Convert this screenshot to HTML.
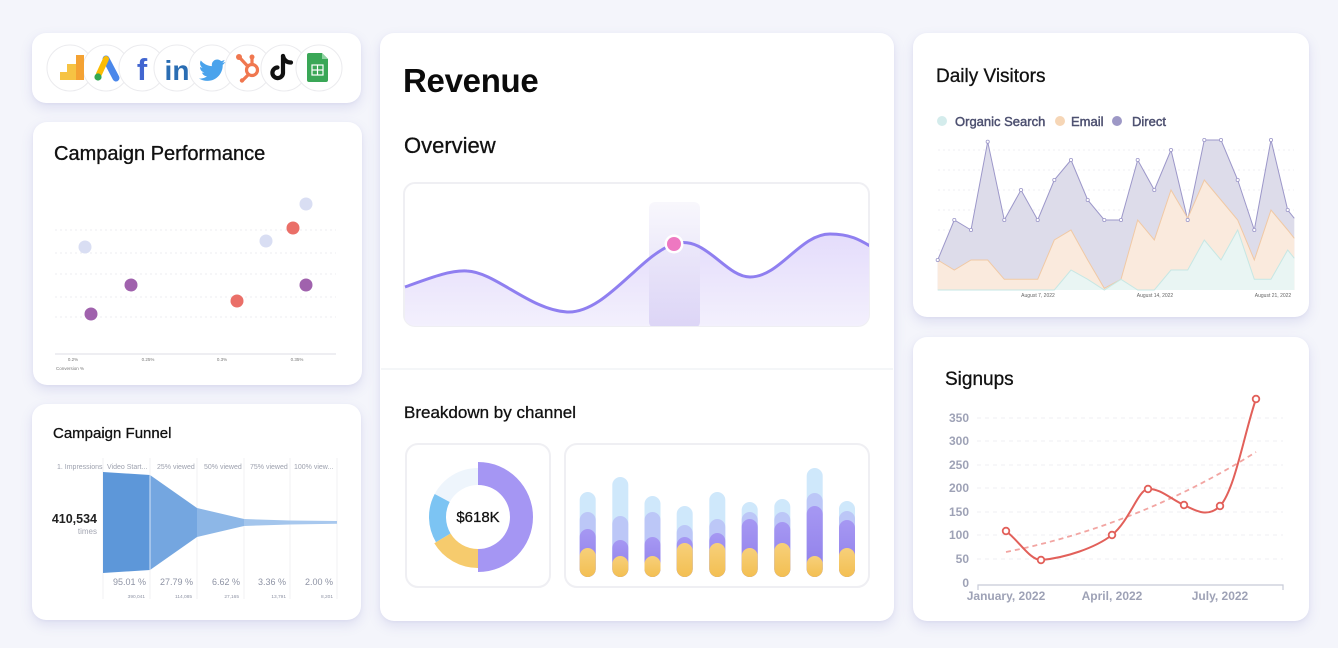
<!DOCTYPE html>
<html><head><meta charset="utf-8">
<style>
*{margin:0;padding:0;box-sizing:border-box}
html,body{width:1338px;height:648px;overflow:hidden;background:#f4f5fb;font-family:"Liberation Sans",sans-serif}
.card{position:absolute;background:#fff;border-radius:14px;box-shadow:0 5px 12px rgba(110,110,190,0.16),0 1px 3px rgba(110,110,190,0.08)}
svg{position:absolute;left:0;top:0}
</style></head><body>
<div class="card" style="left:32px;top:33px;width:329px;height:70px"></div>
<div class="card" style="left:33px;top:122px;width:329px;height:263px"></div>
<div class="card" style="left:32px;top:404px;width:329px;height:216px"></div>
<div class="card" style="left:380px;top:33px;width:514px;height:588px"></div>
<div class="card" style="left:913px;top:33px;width:396px;height:284px"></div>
<div class="card" style="left:913px;top:337px;width:396px;height:284px"></div>

<svg width="1338" height="648" viewBox="0 0 1338 648" xmlns="http://www.w3.org/2000/svg">
<defs>
<linearGradient id="revfill" x1="0" y1="0" x2="0" y2="1"><stop offset="0" stop-color="#e4dcfb"/><stop offset="1" stop-color="#f3f0fd"/></linearGradient>
<linearGradient id="hl" x1="0" y1="0" x2="0" y2="1"><stop offset="0" stop-color="#f7f6fc"/><stop offset="1" stop-color="#d8d0f5"/></linearGradient>
<linearGradient id="pur" x1="0" y1="0" x2="0" y2="1"><stop offset="0" stop-color="#a698f3"/><stop offset="1" stop-color="#8f7ee9"/></linearGradient>
<linearGradient id="yel" x1="0" y1="0" x2="0" y2="1"><stop offset="0" stop-color="#f7d07a"/><stop offset="1" stop-color="#f3bf52"/></linearGradient>
<clipPath id="revclip"><rect x="404" y="183" width="465" height="143" rx="11"/></clipPath>
</defs>

<!-- ICONS -->
<g stroke="#ebebee" stroke-width="1" fill="#fff">
<circle cx="70" cy="68" r="23"/><circle cx="106" cy="68" r="23"/><circle cx="142" cy="68" r="23"/><circle cx="177" cy="68" r="23"/><circle cx="212" cy="68" r="23"/><circle cx="248" cy="68" r="23"/><circle cx="284" cy="68" r="23"/><circle cx="319" cy="68" r="23"/>
</g>
<rect x="60" y="72" width="8" height="8" fill="#f6c343"/>
<rect x="67" y="64" width="9" height="16" fill="#f6c343"/>
<rect x="76" y="55" width="8" height="25" fill="#f4a233"/>
<line x1="106" y1="59" x2="116" y2="78" stroke="#4a87ea" stroke-width="7" stroke-linecap="round"/>
<line x1="106" y1="59" x2="99" y2="74" stroke="#fbbc04" stroke-width="6" stroke-linecap="round"/>
<circle cx="98" cy="77" r="3.6" fill="#34a853"/>
<text x="142" y="80" font-size="31" font-weight="bold" fill="#4266d0" text-anchor="middle">f</text>
<text x="177" y="80" font-size="28" font-weight="bold" fill="#2a6db3" text-anchor="middle">in</text>
<path transform="translate(199,57) scale(1.1)" fill="#4aa3ec" d="M23.954 4.569c-.885.389-1.83.654-2.825.775 1.014-.611 1.794-1.574 2.163-2.723-.951.555-2.005.959-3.127 1.184-.896-.959-2.173-1.559-3.591-1.559-2.717 0-4.920 2.203-4.92 4.917 0 .39.045.765.127 1.124C7.691 8.094 4.066 6.13 1.64 3.161c-.427.722-.666 1.561-.666 2.475 0 1.71.87 3.213 2.188 4.096-.807-.026-1.566-.248-2.228-.616v.061c0 2.385 1.693 4.374 3.946 4.827-.413.111-.849.171-1.296.171-.314 0-.615-.03-.916-.086.631 1.953 2.445 3.377 4.604 3.417-1.68 1.319-3.809 2.105-6.102 2.105-.39 0-.779-.023-1.17-.067 2.189 1.394 4.768 2.209 7.557 2.209 9.054 0 13.999-7.496 13.999-13.986 0-.209 0-.42-.015-.63.961-.689 1.8-1.56 2.46-2.548l-.047-.02z"/>
<g stroke="#f0774f" fill="none" stroke-width="3.2" stroke-linecap="round">
<circle cx="252" cy="70" r="5.5"/>
<line x1="252" y1="64" x2="252" y2="58"/>
<line x1="247.5" y1="66" x2="240" y2="58"/>
<line x1="248" y1="75" x2="243" y2="80"/>
</g>
<circle cx="252" cy="57" r="2.5" fill="#f0774f"/><circle cx="239" cy="57" r="3" fill="#f0774f"/><circle cx="242" cy="80.5" r="2.2" fill="#f0774f"/>
<g stroke="#111" fill="none" stroke-width="4.2" stroke-linecap="round">
<path d="M283,56 L283,73 A5.3,5.3 0 1 1 277.5,67.5"/>
<path d="M283,56 Q284.5,62.5 291,62.5"/>
</g>
<path d="M307,55 Q307,53 309,53 L322,53 L328,59 L328,80 Q328,82 326,82 L309,82 Q307,82 307,80 Z" fill="#3aa757"/>
<path d="M322,53 L322,59 L328,59 Z" fill="#8fd3a2"/>
<g stroke="#fff" stroke-width="1.2" fill="none"><rect x="312" y="65" width="11" height="10"/><line x1="312" y1="70" x2="323" y2="70"/><line x1="317.5" y1="65" x2="317.5" y2="75"/></g>

<!-- CAMPAIGN PERFORMANCE -->
<text x="54" y="160" font-size="20" fill="#111" stroke="#111" stroke-width="0.35">Campaign Performance</text>
<g stroke="#ececf1" stroke-width="1" stroke-dasharray="2,3">
<line x1="55" y1="230" x2="336" y2="230"/><line x1="55" y1="253" x2="336" y2="253"/><line x1="55" y1="274" x2="336" y2="274"/><line x1="55" y1="297" x2="336" y2="297"/><line x1="55" y1="317" x2="336" y2="317"/>
</g>
<line x1="55" y1="354" x2="336" y2="354" stroke="#dcdde6" stroke-width="1"/>
<g font-size="4.5" fill="#777" text-anchor="middle"><text x="73" y="361">0.2%</text><text x="148" y="361">0.25%</text><text x="222" y="361">0.3%</text><text x="297" y="361">0.35%</text></g>
<text x="56" y="370" font-size="4.5" fill="#777">Conversion %</text>
<g fill="#d9def3"><circle cx="85" cy="247" r="6.5"/><circle cx="266" cy="241" r="6.5"/><circle cx="306" cy="204" r="6.5"/></g>
<g fill="#ea6f68"><circle cx="293" cy="228" r="6.5"/><circle cx="237" cy="301" r="6.5"/></g>
<g fill="#a062ad"><circle cx="131" cy="285" r="6.5"/><circle cx="91" cy="314" r="6.5"/><circle cx="306" cy="285" r="6.5"/></g>

<!-- CAMPAIGN FUNNEL -->
<text x="53" y="438" font-size="15" fill="#111" stroke="#111" stroke-width="0.3">Campaign Funnel</text>
<g stroke="#f0f0f3" stroke-width="1"><line x1="103" y1="458" x2="103" y2="599"/><line x1="150" y1="458" x2="150" y2="599"/><line x1="197" y1="458" x2="197" y2="599"/><line x1="244" y1="458" x2="244" y2="599"/><line x1="290" y1="458" x2="290" y2="599"/><line x1="337" y1="458" x2="337" y2="599"/></g>
<g font-size="7" fill="#9da1ae"><text x="57" y="469">1. Impressions</text><text x="107" y="469">Video Start...</text><text x="157" y="469">25% viewed</text><text x="204" y="469">50% viewed</text><text x="250" y="469">75% viewed</text><text x="294" y="469">100% view...</text></g>
<polygon points="103,472 150,475 150,570 103,573" fill="#5d97d9"/>
<polygon points="150,475 197,508 197,537 150,570" fill="#74a6e0"/>
<polygon points="197,508 244,519 244,526 197,537" fill="#8db7e7"/>
<polygon points="244,519 290,520.5 290,524.5 244,526" fill="#a3c5ec"/>
<polygon points="290,520.5 337,521 337,523.8 290,524.5" fill="#a8c8ee"/>
<line x1="150" y1="475" x2="150" y2="570" stroke="#d4e3f6" stroke-width="1"/>
<text x="97" y="523" font-size="12.5" font-weight="bold" fill="#222" text-anchor="end">410,534</text>
<text x="97" y="534" font-size="8" fill="#a3a6b2" text-anchor="end">times</text>
<g font-size="9" fill="#8e93a4" text-anchor="end"><text x="146" y="585">95.01 %</text><text x="193" y="585">27.79 %</text><text x="240" y="585">6.62 %</text><text x="286" y="585">3.36 %</text><text x="333" y="585">2.00 %</text></g>
<g font-size="4.8" fill="#8e93a4" text-anchor="end"><text x="145" y="598">390,041</text><text x="192" y="598">114,085</text><text x="239" y="598">27,165</text><text x="286" y="598">13,791</text><text x="333" y="598">8,201</text></g>

<!-- REVENUE -->
<text x="403" y="92" font-size="33" font-weight="bold" fill="#0b0b0b" letter-spacing="-0.3">Revenue</text>
<text x="404" y="153" font-size="22" fill="#111" stroke="#111" stroke-width="0.3">Overview</text>
<rect x="404" y="183" width="465" height="143" rx="11" fill="#fff" stroke="#efeff3" stroke-width="2"/>
<g clip-path="url(#revclip)">
<path d="M405,287 C430,278 450,270 467,271 C495,272 530,310 567,312 C605,314 640,255 674,244 C705,234 725,277 750,277 C780,277 800,234 830,234 C850,234 860,240 870,246 L870,327 L405,327 Z" fill="url(#revfill)"/>
<rect x="649" y="202" width="51" height="126" rx="6" fill="url(#hl)" opacity="0.85"/>
<path d="M405,287 C430,278 450,270 467,271 C495,272 530,310 567,312 C605,314 640,255 674,244 C705,234 725,277 750,277 C780,277 800,234 830,234 C850,234 860,240 870,246" fill="none" stroke="#8f7ff0" stroke-width="3"/>
</g>
<circle cx="674" cy="244" r="9.5" fill="#fff"/>
<circle cx="674" cy="244" r="7" fill="#ee78c1"/>
<line x1="381" y1="369" x2="893" y2="369" stroke="#eef0f4" stroke-width="1.2"/>
<text x="404" y="418" font-size="17" fill="#111" stroke="#111" stroke-width="0.3">Breakdown by channel</text>
<rect x="406" y="444" width="144" height="143" rx="12" fill="#fff" stroke="#efeff3" stroke-width="2"/>
<rect x="565" y="444" width="304" height="143" rx="12" fill="#fff" stroke="#efeff3" stroke-width="2"/>
<path d="M434.7,494 A49 49 0 0 1 478,468 L478,485 A32 32 0 0 0 449.7,502 Z" fill="#eef5fc"/>
<path d="M436,542.2 A49 49 0 0 1 434.7,494 L449.7,502 A32 32 0 0 0 450.6,533.5 Z" fill="#7cc4f3"/>
<path d="M478,568 A51 51 0 0 1 434.3,543.3 L450.6,533.5 A32 32 0 0 0 478,549 Z" fill="#f6cb6d"/>
<path d="M478,462 A55 55 0 0 1 478,572 L478,549 A32 32 0 0 0 478,485 Z" fill="#a596f3"/>
<text x="478" y="522" font-size="15" fill="#111" text-anchor="middle" stroke="#111" stroke-width="0.25">$618K</text>
<!-- bars -->
<g>
<rect x="579.7" y="492" width="16" height="85" rx="8" fill="#cfe8fb"/><rect x="579.7" y="512" width="16" height="65" rx="8" fill="#bcc7f7"/><rect x="579.7" y="529" width="16" height="48" rx="8" fill="url(#pur)"/><rect x="579.7" y="548" width="16" height="29" rx="8" fill="url(#yel)"/>
<rect x="612.3" y="477" width="16" height="100" rx="8" fill="#cfe8fb"/><rect x="612.3" y="516" width="16" height="61" rx="8" fill="#bcc7f7"/><rect x="612.3" y="540" width="16" height="37" rx="8" fill="url(#pur)"/><rect x="612.3" y="556" width="16" height="21" rx="8" fill="url(#yel)"/>
<rect x="644.5" y="496" width="16" height="81" rx="8" fill="#cfe8fb"/><rect x="644.5" y="512" width="16" height="65" rx="8" fill="#bcc7f7"/><rect x="644.5" y="537" width="16" height="40" rx="8" fill="url(#pur)"/><rect x="644.5" y="556" width="16" height="21" rx="8" fill="url(#yel)"/>
<rect x="676.7" y="506" width="16" height="71" rx="8" fill="#cfe8fb"/><rect x="676.7" y="525" width="16" height="52" rx="8" fill="#bcc7f7"/><rect x="676.7" y="537" width="16" height="40" rx="8" fill="url(#pur)"/><rect x="676.7" y="543" width="16" height="34" rx="8" fill="url(#yel)"/>
<rect x="709.3" y="492" width="16" height="85" rx="8" fill="#cfe8fb"/><rect x="709.3" y="519" width="16" height="58" rx="8" fill="#bcc7f7"/><rect x="709.3" y="533" width="16" height="44" rx="8" fill="url(#pur)"/><rect x="709.3" y="543" width="16" height="34" rx="8" fill="url(#yel)"/>
<rect x="741.7" y="502" width="16" height="75" rx="8" fill="#cfe8fb"/><rect x="741.7" y="512" width="16" height="65" rx="8" fill="#bcc7f7"/><rect x="741.7" y="519" width="16" height="58" rx="8" fill="url(#pur)"/><rect x="741.7" y="548" width="16" height="29" rx="8" fill="url(#yel)"/>
<rect x="774.3" y="499" width="16" height="78" rx="8" fill="#cfe8fb"/><rect x="774.3" y="512" width="16" height="65" rx="8" fill="#bcc7f7"/><rect x="774.3" y="522" width="16" height="55" rx="8" fill="url(#pur)"/><rect x="774.3" y="543" width="16" height="34" rx="8" fill="url(#yel)"/>
<rect x="806.7" y="468" width="16" height="109" rx="8" fill="#cfe8fb"/><rect x="806.7" y="493" width="16" height="84" rx="8" fill="#bcc7f7"/><rect x="806.7" y="506" width="16" height="71" rx="8" fill="url(#pur)"/><rect x="806.7" y="556" width="16" height="21" rx="8" fill="url(#yel)"/>
<rect x="839" y="501" width="16" height="76" rx="8" fill="#cfe8fb"/><rect x="839" y="511" width="16" height="66" rx="8" fill="#bcc7f7"/><rect x="839" y="520" width="16" height="57" rx="8" fill="url(#pur)"/><rect x="839" y="548" width="16" height="29" rx="8" fill="url(#yel)"/>
</g>

<!-- DAILY VISITORS -->
<text x="936" y="82" font-size="19" fill="#111" stroke="#111" stroke-width="0.3">Daily Visitors</text>
<circle cx="942" cy="121" r="5" fill="#d4ecec"/><text x="955" y="126" font-size="13" fill="#4d5070" stroke="#4d5070" stroke-width="0.45">Organic Search</text>
<circle cx="1060" cy="121" r="5" fill="#f6d6b6"/><text x="1071" y="126" font-size="13" fill="#4d5070" stroke="#4d5070" stroke-width="0.45">Email</text>
<circle cx="1117" cy="121" r="5" fill="#9d98c6"/><text x="1132" y="126" font-size="13" fill="#4d5070" stroke="#4d5070" stroke-width="0.45">Direct</text>
<g stroke="#efeff3" stroke-width="1" stroke-dasharray="2,3"><line x1="938" y1="150" x2="1294" y2="150"/><line x1="938" y1="170" x2="1294" y2="170"/><line x1="938" y1="190" x2="1294" y2="190"/><line x1="938" y1="210" x2="1294" y2="210"/><line x1="938" y1="230" x2="1294" y2="230"/><line x1="938" y1="250" x2="1294" y2="250"/><line x1="938" y1="270" x2="1294" y2="270"/></g>
<polygon fill="#dddcea" points="937.7,290 937.7,260 954.3,220 971,230 987.7,141.7 1004.3,220 1021,190 1037.7,220 1054.3,180 1071,160 1087.7,200 1104.3,220 1121,220 1137.7,160 1154.3,190 1171,150 1187.7,220 1204.3,140 1221,140 1237.7,180 1254.3,230 1271,140 1287.7,210 1294.3,218.3 1294.3,290"/>
<polygon fill="#faeadd" points="937.7,290 937.7,260 954.3,270 971,260 987.7,260 1004.3,279.3 1021,279.3 1037.7,279.3 1054.3,240 1071,230 1087.7,260 1104.3,288.3 1121,279.3 1137.7,220 1154.3,240 1171,190 1187.7,218.3 1204.3,180 1221,200 1237.7,220 1254.3,260 1271,210 1287.7,230 1294.3,238.3 1294.3,290"/>
<polygon fill="#e9f5f3" points="937.7,290 954.3,290 971,290 987.7,290 1004.3,290 1021,290 1037.7,290 1054.3,290 1071,270 1087.7,279.3 1104.3,290 1121,279.3 1137.7,290 1154.3,290 1171,270 1187.7,270 1204.3,240 1221,260 1237.7,230 1254.3,279.3 1271,279.3 1287.7,250 1294.3,258.3 1294.3,290"/>
<polyline fill="none" stroke="#9c97c9" stroke-width="1" points="937.7,260 954.3,220 971,230 987.7,141.7 1004.3,220 1021,190 1037.7,220 1054.3,180 1071,160 1087.7,200 1104.3,220 1121,220 1137.7,160 1154.3,190 1171,150 1187.7,220 1204.3,140 1221,140 1237.7,180 1254.3,230 1271,140 1287.7,210 1294.3,218.3"/>
<polyline fill="none" stroke="#f0c9a5" stroke-width="1" points="937.7,260 954.3,270 971,260 987.7,260 1004.3,279.3 1021,279.3 1037.7,279.3 1054.3,240 1071,230 1087.7,260 1104.3,288.3 1121,279.3 1137.7,220 1154.3,240 1171,190 1187.7,218.3 1204.3,180 1221,200 1237.7,220 1254.3,260 1271,210 1287.7,230 1294.3,238.3"/>
<polyline fill="none" stroke="#c6e7e4" stroke-width="1" points="937.7,290 954.3,290 971,290 987.7,290 1004.3,290 1021,290 1037.7,290 1054.3,290 1071,270 1087.7,279.3 1104.3,290 1121,279.3 1137.7,290 1154.3,290 1171,270 1187.7,270 1204.3,240 1221,260 1237.7,230 1254.3,279.3 1271,279.3 1287.7,250 1294.3,258.3"/>
<g fill="#fff" stroke="#9c97c9" stroke-width="0.8"><circle cx="937.7" cy="260" r="1.6"/><circle cx="954.3" cy="220" r="1.6"/><circle cx="971" cy="230" r="1.6"/><circle cx="987.7" cy="141.7" r="1.6"/><circle cx="1004.3" cy="220" r="1.6"/><circle cx="1021" cy="190" r="1.6"/><circle cx="1037.7" cy="220" r="1.6"/><circle cx="1054.3" cy="180" r="1.6"/><circle cx="1071" cy="160" r="1.6"/><circle cx="1087.7" cy="200" r="1.6"/><circle cx="1104.3" cy="220" r="1.6"/><circle cx="1121" cy="220" r="1.6"/><circle cx="1137.7" cy="160" r="1.6"/><circle cx="1154.3" cy="190" r="1.6"/><circle cx="1171" cy="150" r="1.6"/><circle cx="1187.7" cy="220" r="1.6"/><circle cx="1204.3" cy="140" r="1.6"/><circle cx="1221" cy="140" r="1.6"/><circle cx="1237.7" cy="180" r="1.6"/><circle cx="1254.3" cy="230" r="1.6"/><circle cx="1271" cy="140" r="1.6"/><circle cx="1287.7" cy="210" r="1.6"/></g>
<g font-size="5" fill="#666" text-anchor="middle"><text x="1038" y="297">August 7, 2022</text><text x="1155" y="297">August 14, 2022</text><text x="1273" y="297">August 21, 2022</text></g>

<!-- SIGNUPS -->
<text x="945" y="385" font-size="19" fill="#111" stroke="#111" stroke-width="0.3">Signups</text>
<g stroke="#efeff3" stroke-width="1" stroke-dasharray="4,4"><line x1="977" y1="418" x2="1283" y2="418"/><line x1="977" y1="441" x2="1283" y2="441"/><line x1="977" y1="465" x2="1283" y2="465"/><line x1="977" y1="488" x2="1283" y2="488"/><line x1="977" y1="512" x2="1283" y2="512"/><line x1="977" y1="535" x2="1283" y2="535"/><line x1="977" y1="559" x2="1283" y2="559"/></g>
<g font-size="12" font-weight="bold" fill="#9ea2b6" text-anchor="end"><text x="969" y="422">350</text><text x="969" y="445">300</text><text x="969" y="469">250</text><text x="969" y="492">200</text><text x="969" y="516">150</text><text x="969" y="539">100</text><text x="969" y="563">50</text><text x="969" y="587">0</text></g>
<path d="M978,590 L978,585 L1283,585 L1283,590" fill="none" stroke="#c8cbd8" stroke-width="1.2"/>
<g font-size="12" font-weight="bold" fill="#9ea2b6" text-anchor="middle"><text x="1006" y="600">January, 2022</text><text x="1112" y="600">April, 2022</text><text x="1220" y="600">July, 2022</text></g>
<path d="M1006,552 Q1140,525 1256,452" fill="none" stroke="#f2a5a2" stroke-width="1.8" stroke-dasharray="5,4"/>
<path d="M1006,531 C1020,542 1030,560 1041,560 C1065,558 1095,548 1112,535 C1130,520 1138,490 1148,489 C1160,488 1172,500 1184,505 C1196,511 1208,518 1220,506 C1235,490 1245,430 1256,399" fill="none" stroke="#e2605a" stroke-width="2"/>
<g fill="#fff" stroke="#e2605a" stroke-width="1.8"><circle cx="1006" cy="531" r="3.3"/><circle cx="1041" cy="560" r="3.3"/><circle cx="1112" cy="535" r="3.3"/><circle cx="1148" cy="489" r="3.3"/><circle cx="1184" cy="505" r="3.3"/><circle cx="1220" cy="506" r="3.3"/><circle cx="1256" cy="399" r="3.3"/></g>
</svg>
</body></html>
